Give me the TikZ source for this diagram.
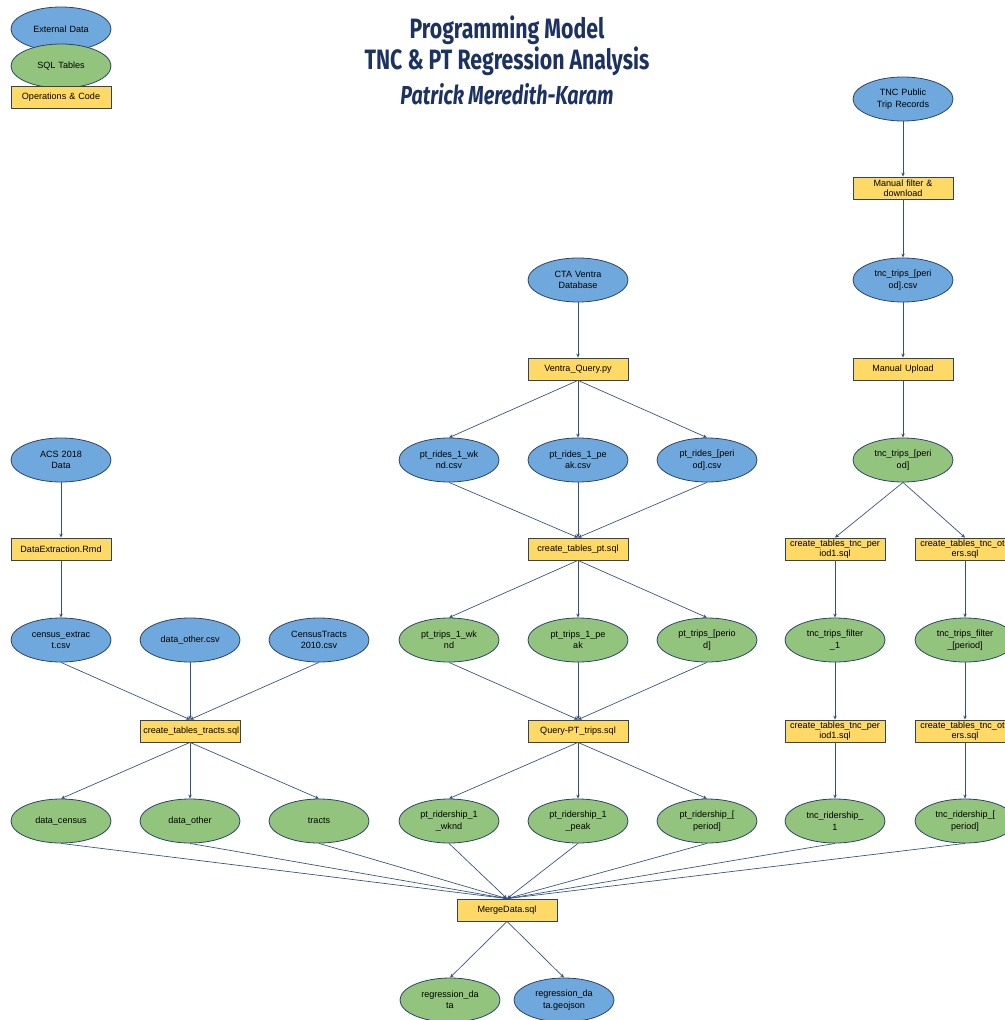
\documentclass[tikz,border=0pt]{standalone}
\usepackage{fontspec}
\setmainfont{Liberation Sans}
\newfontfamily\titlefont[FakeStretch=0.76]{Fira Sans}
\usetikzlibrary{shapes.geometric,arrows.meta}
\definecolor{extblue}{HTML}{6FA8DC}
\definecolor{sqlgreen}{HTML}{93C47D}
\definecolor{codeyellow}{HTML}{FFD966}
\definecolor{linenavy}{HTML}{34507F}
\definecolor{titlenavy}{HTML}{1C3263}

\tikzset{
  box/.style={draw=linenavy!85!black, line width=0.6pt, align=center, inner sep=0pt,
    font=\fontsize{6.8}{8.6}\selectfont},
  extdata/.style={box, ellipse, fill=extblue, text width=44pt, minimum width=75pt, minimum height=33pt},
  sqltable/.style={box, ellipse, fill=sqlgreen, text width=44pt, minimum width=75pt, minimum height=33pt},
  operation/.style={box, rectangle, fill=codeyellow, text width=70pt, minimum width=75pt, minimum height=16.5pt,
    font=\fontsize{6.8}{7.4}\selectfont},
  flow/.style={draw=linenavy, line width=0.5pt, -{Stealth[length=3pt,width=2.6pt]}},
  heading/.style={text=titlenavy, align=center, font=\titlefont\bfseries\fontsize{21}{23.5}\selectfont}
}

\begin{document}
\begin{tikzpicture}[x=0.75pt, y=-0.75pt]
	\useasboundingbox (0,0) rectangle (1005,1020);
	\clip (0,0) rectangle (1005,1020);

	% key
	\node[extdata]   (keyext)  at (61,29) {External Data};
	\node[sqltable]  (keysql)  at (61,66) {SQL Tables};
	\node[operation] (keycode) at (61,97) {Operations \& Code};

	% heading
	\node[heading] (title) at (507,46) {Programming Model\\TNC \& PT Regression Analysis};
	\node[heading, font=\titlefont\bfseries\itshape\fontsize{19.5}{22}\selectfont] (author) at (507,94) {Patrick Meredith-Karam};

	% census branch
	\node[extdata]   (acs)      at (61,460)  {ACS 2018\\Data};
	\node[operation] (dextract) at (61,549)  {DataExtraction.Rmd};
	\node[extdata]   (censuscsv) at (61,640) {census\_extrac\\t.csv};
	\node[extdata]   (othercsv) at (190,640) {data\_other.csv};
	\node[extdata]   (tractscsv) at (319,640) {CensusTracts\\2010.csv};
	\node[operation] (cttracts) at (190,731) {create\_tables\_tracts.sql};
	\node[sqltable]  (dcensus)  at (61,821)  {data\_census};
	\node[sqltable]  (dother)   at (190,821) {data\_other};
	\node[sqltable]  (tracts)   at (319,821) {tracts};

	% transit branch
	\node[extdata]   (ventra)   at (578,280) {CTA Ventra\\Database};
	\node[operation] (vquery)   at (578,369) {Ventra\_Query.py};
	\node[extdata]   (rideswk)  at (449,460) {pt\_rides\_1\_wk\\nd.csv};
	\node[extdata]   (ridespk)  at (578,460) {pt\_rides\_1\_pe\\ak.csv};
	\node[extdata]   (ridespd)  at (707,460) {pt\_rides\_[peri\\od].csv};
	\node[operation] (ctpt)     at (578,549) {create\_tables\_pt.sql};
	\node[sqltable]  (tripswk)  at (449,640) {pt\_trips\_1\_wk\\nd};
	\node[sqltable]  (tripspk)  at (578,640) {pt\_trips\_1\_pe\\ak};
	\node[sqltable]  (tripspd)  at (707,640) {pt\_trips\_[perio\\d]};
	\node[operation] (qpt)      at (578,731) {Query-PT\_trips.sql};
	\node[sqltable]  (ptridwk)  at (449,821) {pt\_ridership\_1\\\_wknd};
	\node[sqltable]  (ptridpk)  at (578,821) {pt\_ridership\_1\\\_peak};
	\node[sqltable]  (ptridpd)  at (707,821) {pt\_ridership\_[\\period]};

	% tnc branch
	\node[extdata]   (tncpub)   at (903,99)  {TNC Public\\Trip Records};
	\node[operation] (mfilter)  at (903,188) {Manual filter \&\\download};
	\node[extdata]   (tnccsv)   at (903,280) {tnc\_trips\_[peri\\od].csv};
	\node[operation] (mupload)  at (903,369) {Manual Upload};
	\node[sqltable]  (tnctrips) at (903,460) {tnc\_trips\_[peri\\od]};
	\node[operation] (cttncone) at (835,549) {create\_tables\_tnc\_per\\iod1.sql};
	\node[operation] (cttncoth) at (965,549) {create\_tables\_tnc\_oth\\ers.sql};
	\node[sqltable]  (filtone)  at (835,640) {tnc\_trips\_filter\\\_1};
	\node[sqltable]  (filtoth)  at (965,640) {tnc\_trips\_filter\\\_[period]};
	\node[operation] (rtncone)  at (835,731) {create\_tables\_tnc\_per\\iod1.sql};
	\node[operation] (rtncoth)  at (965,731) {create\_tables\_tnc\_oth\\ers.sql};
	\node[sqltable]  (tncridone) at (835,821) {tnc\_ridership\_\\1};
	\node[sqltable]  (tncridoth) at (965,821) {tnc\_ridership\_[\\period]};

	% merge
	\node[operation] (merge)    at (507,910)  {MergeData.sql};
	\node[sqltable]  (regdata)  at (450,1000) {regression\_da\\ta};
	\node[extdata]   (reggeo)   at (564,1000) {regression\_da\\ta.geojson};

	\foreach \a/\b in {acs/dextract, dextract/censuscsv, censuscsv/cttracts, othercsv/cttracts, tractscsv/cttracts,
		cttracts/dcensus, cttracts/dother, cttracts/tracts,
		ventra/vquery, vquery/rideswk, vquery/ridespk, vquery/ridespd,
		rideswk/ctpt, ridespk/ctpt, ridespd/ctpt, ctpt/tripswk, ctpt/tripspk, ctpt/tripspd,
		tripswk/qpt, tripspk/qpt, tripspd/qpt, qpt/ptridwk, qpt/ptridpk, qpt/ptridpd,
		tncpub/mfilter, mfilter/tnccsv, tnccsv/mupload, mupload/tnctrips,
		tnctrips/cttncone, tnctrips/cttncoth, cttncone/filtone, cttncoth/filtoth,
		filtone/rtncone, filtoth/rtncoth, rtncone/tncridone, rtncoth/tncridoth,
		merge/regdata, merge/reggeo}
		\draw[flow] (\a.south) -- (\b.north);

	\foreach \a in {dcensus, dother, tracts, ptridwk, ptridpk, ptridpd, tncridone, tncridoth}
		\draw[flow] (\a.south) -- (merge.north);
\end{tikzpicture}
\end{document}
